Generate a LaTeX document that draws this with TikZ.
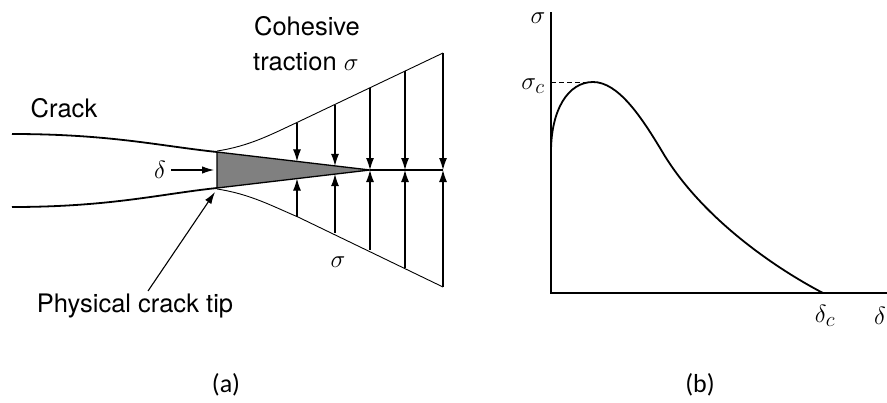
\documentclass[tikz,border=0pt]{standalone}
\usepackage{fontspec}
\setmainfont{TeX Gyre Heros}
\newfontfamily\capfont{Carlito}
\usetikzlibrary{arrows.meta}
\begin{document}
\begin{tikzpicture}[x=1pt,y=-1pt,
  crackline/.style={line width=1.8pt},
  envline/.style={line width=0.9pt},
  forcearrow/.style={line width=1.1pt,-{Latex[length=12pt,width=8pt]}},
  labelarrow/.style={line width=1.1pt,-{Latex[length=12pt,width=7.5pt]}},
  lbl/.style={font=\fontsize{25.5}{30}\selectfont, inner sep=0pt},
  greek/.style={font=\fontsize{28}{30}\selectfont, inner sep=0pt},
  caplbl/.style={font=\capfont\fontsize{26}{30}\selectfont, inner sep=0pt},
  axisline/.style={line width=1.4pt},
  curveline/.style={line width=1.8pt}]
\useasboundingbox (0,0) rectangle (887,402);

% ---------- (a) cohesive zone ----------
\coordinate (ut) at (217,152);
\coordinate (lt) at (217,188);
\coordinate (tip) at (370,170);
\coordinate (end) at (443,170);

\draw[crackline] (12,134) .. controls (110,134) and (160,146) .. (ut);
\draw[crackline] (12,207) .. controls (110,207) and (160,194) .. (lt);
\filldraw[fill=black!50, line width=1.3pt] (ut) -- (tip) -- (lt) -- cycle;
\draw[crackline] (tip) -- (end);

\draw[envline] (217,151) .. controls (250,146) and (272,134) .. (298,122) -- (443,53);
\draw[envline] (217,189) .. controls (250,194) and (272,206) .. (298,217) -- (443,287);

\foreach \x/\ya/\yb in {297/123/161.4, 335/104.5/165.9, 370/88/170, 405/71/170, 443/53/170}
  \draw[forcearrow] (\x,\ya) -- (\x,\yb);
\foreach \x/\ya/\yb in {297/216.5/178.6, 335/233/174.1, 370/250/170, 405/268/170, 443/287/170}
  \draw[forcearrow] (\x,\ya) -- (\x,\yb);

\node[lbl] (crack) at (64,108) {Crack};
\node[lbl] (coh) at (307,26) {Cohesive};
\node[lbl, anchor=west] (trac) at (253,62) {traction $\sigma$};
\node[greek] (sigb) at (338,262) {$\sigma$};
\node[greek] (delta) at (160,170) {$\delta$};
\coordinate (dend) at (214,170);
\draw[labelarrow] (delta.east) ++(5,0) -- (dend);
\node[lbl] (ptip) at (135,306) {Physical crack tip};
\coordinate (pstart) at (148,291);
\coordinate (pend) at (215,192);
\draw[labelarrow] (pstart) -- (pend);

% ---------- (b) traction-separation law ----------
\coordinate (O) at (551,293);
\coordinate (ytop) at (551,12);
\coordinate (xend) at (887,293);
\draw[axisline] (ytop) -- (O) -- (xend);
\draw[line width=0.9pt, dash pattern=on 5pt off 3pt] (551,82) -- (593,82);
\draw[curveline] (551,152) .. controls (551,110) and (568,82) .. (593,82)
  .. controls (618,82) and (641,116) .. (663,153)
  .. controls (702,218) and (775,268) .. (823,293);

\node[greek] (sy) at (538,18) {$\sigma$};
\node[greek] (sc) at (533,86) {$\sigma_c$};
\node[greek] (dc) at (825,316) {$\delta_c$};
\node[greek] (dx) at (880,316) {$\delta$};

\node[caplbl] (capa) at (226,385) {(a)};
\node[caplbl] (capb) at (700,385) {(b)};
\end{tikzpicture}
\end{document}
